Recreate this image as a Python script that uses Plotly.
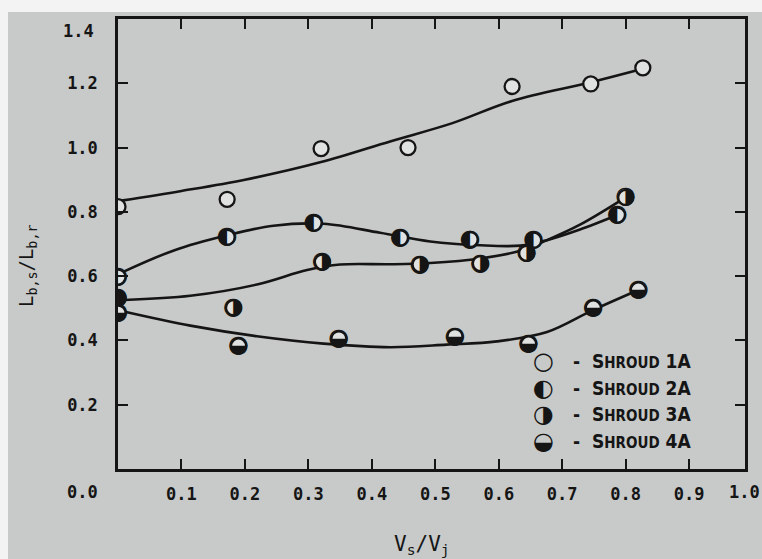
import plotly.graph_objects as go

# ---------------- data ----------------
# measured points
x_1a = [0.0, 0.172, 0.320, 0.457, 0.621, 0.745, 0.827]
y_1a = [0.816, 0.839, 0.997, 1.000, 1.190, 1.198, 1.248]

x_2a = [0.0, 0.172, 0.309, 0.445, 0.555, 0.655, 0.787]
y_2a = [0.597, 0.721, 0.765, 0.719, 0.714, 0.712, 0.790]

x_3a = [0.0, 0.182, 0.322, 0.476, 0.571, 0.644, 0.800]
y_3a = [0.531, 0.502, 0.644, 0.636, 0.639, 0.671, 0.845]

x_4a = [0.0, 0.190, 0.348, 0.531, 0.647, 0.749, 0.820]
y_4a = [0.485, 0.383, 0.405, 0.412, 0.389, 0.501, 0.557]

# faired curves
fit_1a_x = [0.005, 0.10, 0.20, 0.32, 0.43, 0.527, 0.621, 0.745, 0.827]
fit_1a_y = [0.835, 0.865, 0.900, 0.955, 1.020, 1.076, 1.145, 1.203, 1.245]

fit_2a_x = [0.009, 0.088, 0.172, 0.245, 0.324, 0.413, 0.492, 0.571, 0.634, 0.676, 0.728, 0.787]
fit_2a_y = [0.614, 0.680, 0.727, 0.757, 0.763, 0.735, 0.708, 0.696, 0.695, 0.712, 0.745, 0.790]

fit_3a_x = [0.009, 0.114, 0.219, 0.298, 0.350, 0.429, 0.492, 0.571, 0.634, 0.676, 0.728, 0.800]
fit_3a_y = [0.526, 0.539, 0.574, 0.619, 0.636, 0.637, 0.641, 0.655, 0.679, 0.712, 0.760, 0.845]

fit_4a_x = [0.009, 0.114, 0.219, 0.324, 0.429, 0.518, 0.597, 0.676, 0.749, 0.820]
fit_4a_y = [0.490, 0.446, 0.413, 0.390, 0.379, 0.387, 0.397, 0.426, 0.495, 0.557]

series_names = ["1A", "2A", "3A", "4A"]
series_glyphs = ["○", "◐", "◑", "◒"]

x_tickvals = [0.1, 0.2, 0.3, 0.4, 0.5, 0.6, 0.7, 0.8, 0.9]
x_ticktext = ["0.1", "0.2", "0.3", "0.4", "0.5", "0.6", "0.7", "0.8", "0.9"]
y_tickvals = [0.2, 0.4, 0.6, 0.8, 1.0, 1.2]
y_ticktext = ["0.2", "0.4", "0.6", "0.8", "1.0", "1.2"]

# ---------------- styling ----------------
INK = "#151515"
BG = "#c8cac9"
FILL = "#e0e2e1"
NUMFONT = dict(family="DejaVu Sans Mono", size=17, color=INK, weight="bold")

fig = go.Figure()

fits = [(fit_1a_x, fit_1a_y), (fit_2a_x, fit_2a_y), (fit_3a_x, fit_3a_y), (fit_4a_x, fit_4a_y)]
for fx, fy in fits:
    fig.add_trace(go.Scatter(x=fx, y=fy, mode="lines",
                             line=dict(color=INK, width=2.6, shape="spline", smoothing=1.0),
                             hoverinfo="skip", showlegend=False))

pts = [(x_1a, y_1a), (x_2a, y_2a), (x_3a, y_3a), (x_4a, y_4a)]
for (px, py), glyph, name in zip(pts, series_glyphs, series_names):
    fig.add_trace(go.Scatter(x=px, y=py, mode="markers", name="Shroud " + name,
                             marker=dict(symbol="circle", size=15, color=FILL,
                                         line=dict(color=INK, width=2.3)),
                             showlegend=False))
    if glyph != "○":
        fig.add_trace(go.Scatter(x=px, y=py, mode="text", text=[glyph] * len(px),
                                 textposition="middle center",
                                 textfont=dict(family="DejaVu Sans", size=24, color=INK),
                                 hoverinfo="skip", showlegend=False))

# ---------------- layout ----------------
L, R, T, B = 118, 17, 19, 90
W, H = 762, 559
pw, ph = W - L - R, H - T - B

def px2x(px):
    return (px - L) / pw

def py2y(py):
    return (H - B - py) / ph

annotations = []
# corner 0.0, 1.0 and 1.4 labels
annotations.append(dict(text="0.0", x=px2x(82), y=py2y(492), xref="paper", yref="paper",
                        showarrow=False, font=NUMFONT, xanchor="center", yanchor="middle"))
annotations.append(dict(text="1.0", x=px2x(744), y=py2y(492), xref="paper", yref="paper",
                        showarrow=False, font=NUMFONT, xanchor="center", yanchor="middle"))
annotations.append(dict(text="1.4", x=px2x(96), y=py2y(31), xref="paper", yref="paper",
                        showarrow=False, font=NUMFONT, xanchor="right", yanchor="middle"))
# axis titles
annotations.append(dict(text="V<sub>s</sub>/V<sub>j</sub>", x=px2x(422), y=py2y(545),
                        xref="paper", yref="paper", showarrow=False,
                        font=dict(family="DejaVu Sans Mono", size=21, color=INK),
                        xanchor="center", yanchor="middle"))
annotations.append(dict(text="L<sub>b,s</sub>/L<sub>b,r</sub>", x=px2x(27), y=py2y(266),
                        xref="paper", yref="paper", showarrow=False, textangle=-90,
                        font=dict(family="DejaVu Sans Mono", size=19, color=INK),
                        xanchor="center", yanchor="middle"))
# legend
leg_rows = [361, 388, 414, 441]
for row_y, glyph, name in zip(leg_rows, series_glyphs, series_names):
    annotations.append(dict(text=glyph, x=px2x(543), y=py2y(row_y), xref="paper", yref="paper",
                            showarrow=False, font=dict(family="DejaVu Sans", size=24, color=INK),
                            xanchor="center", yanchor="middle"))
    annotations.append(dict(text="-  S<span style='font-size:15px'>HROUD</span> " + name,
                            x=px2x(571), y=py2y(row_y), xref="paper", yref="paper",
                            showarrow=False,
                            font=dict(family="DejaVu Sans Condensed, Liberation Sans Narrow, DejaVu Sans",
                                      size=19, color=INK, weight="bold"),
                            xanchor="left", yanchor="middle"))

shapes = [dict(type="rect", xref="paper", yref="paper", x0=px2x(8), x1=px2x(770),
               y0=py2y(570), y1=py2y(12), fillcolor=BG, line=dict(width=0), layer="below")]

fig.update_layout(
    width=W, height=H,
    margin=dict(l=L, r=R, t=T, b=B, pad=0),
    paper_bgcolor="#f3f3f3", plot_bgcolor="rgba(0,0,0,0)",
    showlegend=False,
    annotations=annotations, shapes=shapes,
    xaxis=dict(range=[0, 0.988], tickvals=x_tickvals, ticktext=x_ticktext,
               ticks="inside", ticklen=10, tickwidth=2, tickcolor=INK,
               showline=True, linecolor=INK, linewidth=2.5, mirror="ticks",
               showgrid=False, zeroline=False, tickfont=NUMFONT, ticklabelstandoff=8),
    yaxis=dict(range=[0, 1.4], tickvals=y_tickvals, ticktext=y_ticktext,
               ticks="inside", ticklen=10, tickwidth=2, tickcolor=INK,
               showline=True, linecolor=INK, linewidth=2.5, mirror="ticks",
               showgrid=False, zeroline=False, tickfont=NUMFONT, ticklabelstandoff=14),
)

fig.write_html("out.html", config={"displayModeBar": False},
               post_script="document.body.style.margin='0';document.body.style.overflow='hidden';")
